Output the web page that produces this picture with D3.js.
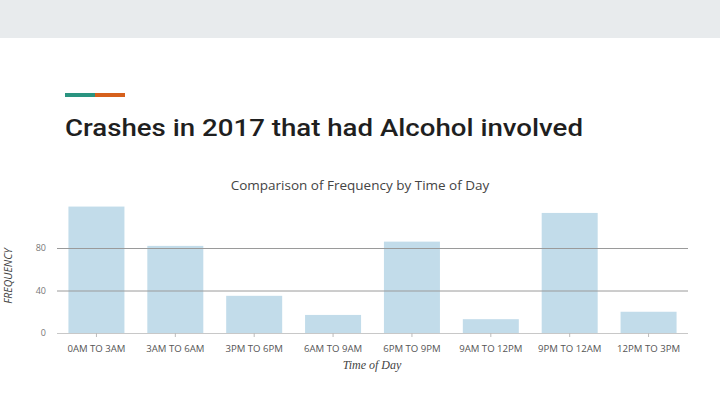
<!DOCTYPE html>
<html><head><meta charset="utf-8">
<script src="https://cdn.jsdelivr.net/npm/d3@7"></script>
<style>body{margin:0;background:#fff;}svg{display:block;}</style>
</head><body>
<script>
const categories = ["0AM TO 3AM","3AM TO 6AM","3PM TO 6PM","6AM TO 9AM","6PM TO 9PM","9AM TO 12PM","9PM TO 12AM","12PM TO 3PM"];
const frequency = [119, 82, 35, 17, 86, 13, 113, 20];
const yTicks = [0, 40, 80];
const pageTitle = "Crashes in 2017 that had Alcohol involved";
const chartTitle = "Comparison of Frequency by Time of Day";
const xTitle = "Time of Day";
const yTitle = "FREQUENCY";

const W = 720, H = 405;
const svg = d3.select("body").append("svg").attr("width", W).attr("height", H);

svg.append("rect").attr("x",0).attr("y",0).attr("width",W).attr("height",38).attr("fill","#e8ebed");
svg.append("rect").attr("x",65).attr("y",93).attr("width",30).attr("height",4).attr("fill","#2a9480");
svg.append("rect").attr("x",95).attr("y",93).attr("width",30).attr("height",4).attr("fill","#d6601c");
svg.append("text").attr("x",65).attr("y",136).text(pageTitle)
  .attr("font-family","Roboto, sans-serif").attr("font-weight",500).attr("font-size",23)
  .attr("fill","#1f1f1f").attr("textLength",518).attr("lengthAdjust","spacingAndGlyphs");

const x = d3.scaleBand().domain(categories).range([57, 688]).paddingInner(0.29).paddingOuter(0.145);
const y = d3.scaleLinear().domain([0, 80]).range([333, 248]);

svg.append("text").attr("x",360).attr("y",190).attr("text-anchor","middle").text(chartTitle)
  .attr("font-family","'Open Sans', sans-serif").attr("font-size",13.5).attr("fill","#444");

const g = svg.append("g");
g.selectAll("rect.bar").data(frequency).join("rect").attr("class","bar")
  .attr("x",(d,i)=>x(categories[i])).attr("width",x.bandwidth())
  .attr("y",d=>y(d)).attr("height",d=>y(0)-y(d)).attr("fill","#c2dcea");

const yAxis = d3.axisLeft(y).tickValues(yTicks).tickSize(-(688-57)).tickPadding(11);
const ya = svg.append("g").attr("transform","translate(57,0)").call(yAxis);
ya.select(".domain").remove();
ya.selectAll(".tick line").attr("stroke",d=>d===0?"#c8c8c8":"#9a9a9a").attr("stroke-width",1);
ya.selectAll(".tick text").attr("font-family","'Open Sans', sans-serif").attr("font-size",9).attr("fill","#777");

const xAxis = d3.axisBottom(x).tickSize(4).tickPadding(8);
const xa = svg.append("g").attr("transform","translate(0,333)").call(xAxis);
xa.select(".domain").remove();
xa.selectAll(".tick line").attr("stroke","#bbb");
xa.selectAll(".tick text").attr("font-family","'Open Sans', sans-serif").attr("font-size",9.6).attr("fill","#555");

svg.append("text").attr("x",372).attr("y",369).attr("text-anchor","middle").text(xTitle)
  .attr("font-family","'Liberation Serif', serif").attr("font-style","italic").attr("font-size",12).attr("fill","#444");
svg.append("text").attr("transform","translate(12,276) rotate(-90)").attr("text-anchor","middle").text(yTitle)
  .attr("font-family","'Open Sans', sans-serif").attr("font-style","italic").attr("font-size",10.5).attr("fill","#444");
</script>
</body></html>
